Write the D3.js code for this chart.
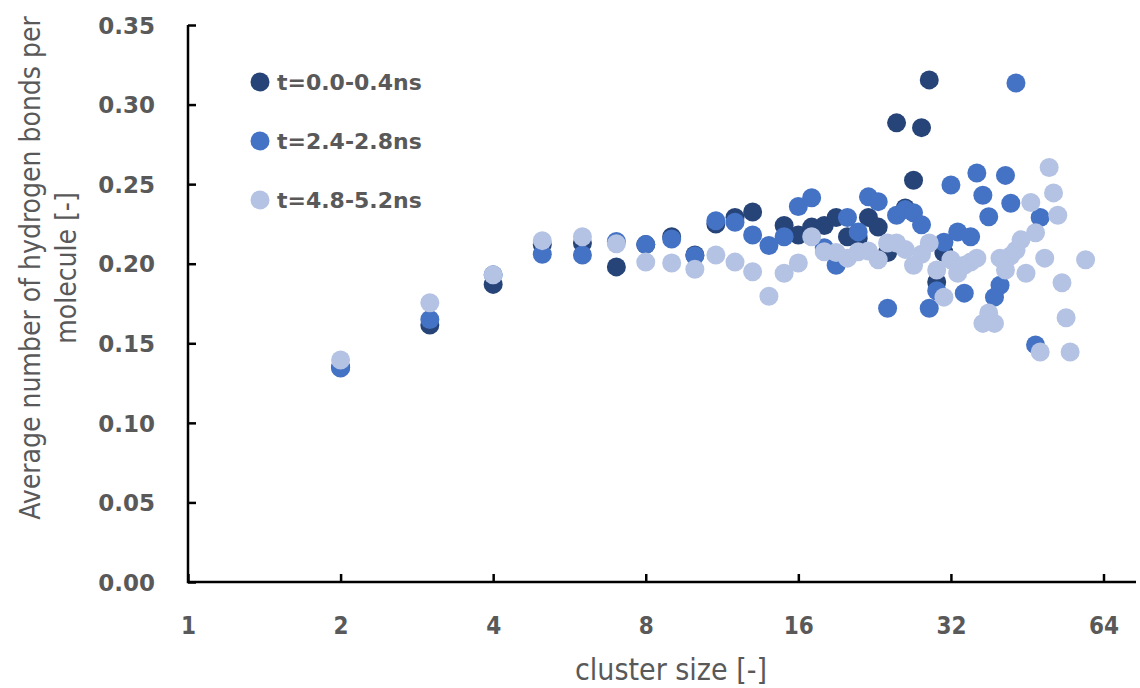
<!DOCTYPE html>
<html>
<head>
<meta charset="utf-8">
<script src="https://cdnjs.cloudflare.com/ajax/libs/d3/7.8.5/d3.min.js"></script>
<style>
    body { margin: 0; background: #fff; }
    svg { display: block; }
    .tickText { fill: #595959; font-family: "DejaVu Sans", sans-serif; font-weight: bold; }
    .xTickText { fill: #595959; font-family: "DejaVu Sans Condensed", "DejaVu Sans", sans-serif; font-weight: bold; }
    .axisTitle { fill: #595959; font-family: "DejaVu Sans Condensed", "DejaVu Sans", sans-serif; }
</style>
</head>
<body>
<div id="chart"></div>
<script>

// cluster size -> average H-bonds per molecule, one list per time window
var seriesNames = ["t=0.0-0.4ns", "t=2.4-2.8ns", "t=4.8-5.2ns"];
var seriesColors = ["#264478", "#4472c4", "#b4c2e3"];

var darkSizes = [2, 3, 4, 5, 6, 7, 8, 9, 10, 11, 12, 13, 15, 16, 17, 18, 19, 20, 21, 22, 23, 24, 25, 26, 27, 28, 29, 30, 31];
var darkValues = [0.135, 0.1615, 0.187, 0.212, 0.213, 0.198, 0.212, 0.217, 0.2055, 0.225, 0.229, 0.2325, 0.224, 0.218, 0.223, 0.224, 0.229, 0.217, 0.216, 0.229, 0.223, 0.207, 0.2885, 0.235, 0.2525, 0.2855, 0.3155, 0.1885, 0.207];

var midSizes = [2, 3, 4, 5, 6, 7, 8, 9, 10, 11, 12, 13, 14, 15, 16, 17, 18, 19, 20, 21, 22, 23, 24, 25, 26, 27, 28, 29, 30, 31, 32, 33, 34, 35, 36, 37, 38, 39, 40, 41, 42, 43, 47, 48];
var midValues = [0.1345, 0.165, 0.193, 0.206, 0.2055, 0.214, 0.212, 0.2155, 0.205, 0.227, 0.226, 0.218, 0.2115, 0.217, 0.236, 0.2415, 0.21, 0.199, 0.229, 0.22, 0.242, 0.239, 0.172, 0.2305, 0.234, 0.232, 0.2245, 0.172, 0.183, 0.2135, 0.2495, 0.22, 0.1815, 0.217, 0.257, 0.243, 0.2295, 0.179, 0.1865, 0.2555, 0.238, 0.3135, 0.149, 0.229];

var lightSizes = [2, 3, 4, 5, 6, 7, 8, 9, 10, 11, 12, 13, 14, 15, 16, 17, 18, 19, 20, 21, 22, 23, 24, 25, 26, 27, 28, 29, 30, 31, 32, 33, 34, 35, 36, 37, 38, 39, 40, 41, 42, 43, 44, 45, 46, 47, 48, 49, 50, 51, 52, 53, 54, 55, 59];
var lightValues = [0.1395, 0.1755, 0.193, 0.2145, 0.217, 0.2125, 0.201, 0.2005, 0.1965, 0.2055, 0.201, 0.195, 0.1795, 0.194, 0.2005, 0.217, 0.2075, 0.207, 0.2035, 0.2075, 0.208, 0.2025, 0.213, 0.213, 0.209, 0.199, 0.206, 0.213, 0.196, 0.179, 0.2025, 0.194, 0.199, 0.201, 0.2035, 0.1625, 0.169, 0.1625, 0.2035, 0.196, 0.205, 0.2085, 0.215, 0.194, 0.2385, 0.2195, 0.1445, 0.2035, 0.2605, 0.2445, 0.2305, 0.188, 0.166, 0.1445, 0.2025];

var xTicks = [1, 2, 4, 8, 16, 32, 64];
var yTicks = [0, 0.05, 0.10, 0.15, 0.20, 0.25, 0.30, 0.35];

(function() {

    var width = 1140,
        height = 688,
        plotLeft = 188,
        axisEnd = 1136,
        plotTop = 25,
        plotBottom = 582,
        radius = 9.5,
        tickLen = 8;

    var svg = d3.select("#chart")
                .append("svg")
                .attr("width", width)
                .attr("height", height);

    var x = d3.scaleLog()
              .base(2)
              .domain([1, 64])
              .range([plotLeft, 1103.5]);

    var y = d3.scaleLinear()
              .domain([0, 0.35])
              .range([plotBottom, plotTop]);

    // y ticks (inside) and labels
    var yAxis = d3.axisRight(y)
                  .tickValues(yTicks)
                  .tickSize(tickLen)
                  .tickFormat(d3.format(".2f"));

    var yG = svg.append("g")
                .attr("transform", "translate(" + plotLeft + ",0)")
                .call(yAxis);
    yG.select(".domain").remove();
    yG.selectAll(".tick line").attr("stroke", "#000").attr("stroke-width", 2.5);
    yG.selectAll(".tick text")
      .attr("class", "tickText")
      .attr("x", -33)
      .attr("dy", "0.36em")
      .attr("text-anchor", "end")
      .style("font-size", "23px");

    // x ticks pointing up into the plot
    var xAxis = d3.axisTop(x)
                  .tickValues(xTicks)
                  .tickSize(tickLen)
                  .tickFormat(d3.format("d"));

    var xG = svg.append("g")
                .attr("transform", "translate(0," + plotBottom + ")")
                .call(xAxis);
    xG.select(".domain").remove();
    xG.selectAll(".tick line").attr("stroke", "#000").attr("stroke-width", 2.5);
    xG.selectAll(".tick text")
      .attr("class", "xTickText")
      .attr("y", 52)
      .attr("dy", 0)
      .style("font-size", "24px");

    // axis lines
    svg.append("path")
       .attr("d", "M" + plotLeft + "," + plotTop + "V" + plotBottom + "H" + axisEnd)
       .attr("fill", "none")
       .attr("stroke", "#000")
       .attr("stroke-width", 2.5);

    // titles
    svg.append("text")
       .attr("class", "axisTitle")
       .attr("x", 671)
       .attr("y", 680)
       .attr("text-anchor", "middle")
       .style("font-size", "30px")
       .text("cluster size [-]");

    var yTitle = svg.append("text")
                    .attr("class", "axisTitle")
                    .attr("transform", "translate(0," + 268 + ") rotate(-90)")
                    .attr("text-anchor", "middle")
                    .style("font-size", "28px");
    yTitle.append("tspan").attr("x", 0).attr("y", 40).text("Average number of hydrogen bonds per");
    yTitle.append("tspan").attr("x", 0).attr("y", 76).text("molecule [-]");

    // points
    var allSeries = [
        {name: seriesNames[0], color: seriesColors[0], sizes: darkSizes, values: darkValues},
        {name: seriesNames[1], color: seriesColors[1], sizes: midSizes, values: midValues},
        {name: seriesNames[2], color: seriesColors[2], sizes: lightSizes, values: lightValues}
    ];

    var seriesG = svg.selectAll(".series")
                     .data(allSeries)
                     .enter()
                     .append("g")
                     .attr("class", "series")
                     .attr("fill", function(d) {return d.color; });

    seriesG.selectAll("circle")
           .data(function(d) {
               return d.sizes.map(function(s, i) {return {size: s, value: d.values[i]}; });
           })
           .enter()
           .append("circle")
           .attr("cx", function(d) {return x(d.size); })
           .attr("cy", function(d) {return y(d.value); })
           .attr("r", radius);

    // legend
    var legendRows = svg.selectAll(".legendRow")
                        .data(allSeries)
                        .enter()
                        .append("g")
                        .attr("class", "legendRow")
                        .attr("transform", function(d, i) {return "translate(260," + (82 + i * 59) + ")"; });

    legendRows.append("circle")
              .attr("r", radius)
              .attr("fill", function(d) {return d.color; });

    legendRows.append("text")
              .attr("class", "tickText")
              .attr("x", 17)
              .attr("dy", "0.36em")
              .style("font-size", "22px")
              .text(function(d) {return d.name; });

})();

</script>
</body>
</html>
